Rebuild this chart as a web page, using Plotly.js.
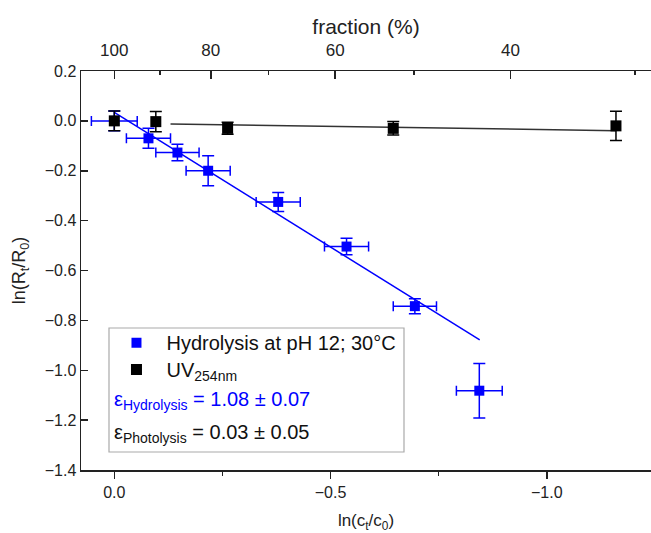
<!DOCTYPE html>
<html>
<head>
<meta charset="utf-8">
<script src="https://cdn.plot.ly/plotly-3.0.1.min.js"></script>
<style>html,body{margin:0;padding:0;background:#fff;}#chart{width:651px;height:533px;}</style>
</head>
<body>
<div id="chart"></div>
<script>
// Hydrolysis at pH 12; 30°C
const hydX = [0.0, -0.079, -0.146, -0.217, -0.379, -0.537, -0.695, -0.844];
const hydY = [0.0, -0.070, -0.127, -0.200, -0.325, -0.504, -0.743, -1.082];
const hydXErr = [0.053, 0.051, 0.050, 0.051, 0.051, 0.051, 0.050, 0.053];
const hydYErr = [0.040, 0.040, 0.033, 0.060, 0.038, 0.033, 0.030, 0.109];
// UV 254 nm
const uvX = [0.0, -0.096, -0.262, -0.645, -1.160];
const uvY = [0.0, -0.003, -0.030, -0.030, -0.020];
const uvYErr = [0.040, 0.041, 0.024, 0.027, 0.059];
// linear fits
const hydFitX = [0.0, -0.845];
const hydFitSlope = 1.08, hydFitIntercept = 0.034;
const uvFitX = [-0.13, -1.16];
const uvFitSlope = 0.026, uvFitIntercept = -0.009;
// top axis (fraction %)
const fractionTicks = [100, 80, 60, 40];
const fractionMinor = [90, 70, 50, 30];

const FONT = "Arial, 'Liberation Sans', sans-serif";
const AX = '#222';

const traces = [
  {x: hydFitX, y: hydFitX.map(v => hydFitSlope * v + hydFitIntercept), mode: 'lines',
   line: {color: '#0000ff', width: 1.5}, showlegend: false, hoverinfo: 'skip'},
  {x: uvFitX, y: uvFitX.map(v => uvFitSlope * v + uvFitIntercept), mode: 'lines',
   line: {color: '#333', width: 1.5}, showlegend: false, hoverinfo: 'skip'},
  {x: hydX, y: hydY, mode: 'markers', name: 'Hydrolysis at pH 12; 30°C', legend: 'legend',
   marker: {symbol: 'square', size: 10, color: '#0000ff'},
   error_x: {type: 'data', array: hydXErr, color: '#0000ff', thickness: 1.5, width: 5},
   error_y: {type: 'data', array: hydYErr, color: '#0000ff', thickness: 1.5, width: 6}},
  {x: uvX, y: uvY, mode: 'markers', name: 'UV<sub>254nm</sub>', legend: 'legend2',
   marker: {symbol: 'square', size: 11, color: '#000'},
   error_y: {type: 'data', array: uvYErr, color: '#000', thickness: 1.5, width: 6}},
  {x: [null], y: [null], xaxis: 'x2', yaxis: 'y', showlegend: false, hoverinfo: 'skip'}
];

const xRange = [0.077, -1.241];
const legendCommon = {xanchor: 'left', yanchor: 'top', bgcolor: 'rgba(0,0,0,0)', borderwidth: 0,
                      font: {size: 20, color: '#111'}, itemwidth: 50};

const layout = {
  width: 651, height: 533,
  margin: {l: 81, r: 0, t: 71, b: 63},
  paper_bgcolor: '#fff', plot_bgcolor: '#fff',
  font: {family: FONT, color: AX, size: 16},
  showlegend: true,
  legend: Object.assign({x: 0.0447, y: 0.368}, legendCommon),
  legend2: Object.assign({x: 0.0447, y: 0.3008}, legendCommon),
  xaxis: {
    range: xRange, showline: true, linecolor: AX, linewidth: 1.5, mirror: false,
    ticks: 'outside', ticklen: 7, tickwidth: 1.5, tickcolor: AX,
    dtick: 0.5, tick0: 0, tickformat: '.1f', showgrid: false, zeroline: false,
    minor: {dtick: 0.25, tick0: 0, ticks: 'outside', ticklen: 4, tickwidth: 1.5, tickcolor: AX, showgrid: false},
    tickfont: {size: 16, color: AX},
    title: {text: 'ln(c<sub>t</sub>/c<sub>0</sub>)', font: {size: 17, color: AX}, standoff: 16}
  },
  xaxis2: {
    overlaying: 'x', side: 'top', range: xRange, showline: true, linecolor: AX, linewidth: 1.5,
    tickmode: 'array', tickvals: fractionTicks.map(f => Math.log(f / 100)), ticktext: fractionTicks.map(String),
    ticks: 'inside', ticklen: 8, tickwidth: 1.5, tickcolor: AX, ticklabelstandoff: 7,
    minor: {tickmode: 'array', tickvals: fractionMinor.map(f => Math.log(f / 100)), ticks: 'inside', ticklen: 4, tickwidth: 1.5, tickcolor: AX, showgrid: false},
    showgrid: false, zeroline: false, tickfont: {size: 17, color: AX},
    title: {text: 'fraction (%)', font: {size: 21, color: AX}, standoff: 0}
  },
  yaxis: {
    range: [-1.4, 0.2], dtick: 0.2, tick0: 0, tickformat: '.1f', showline: true, linecolor: AX, linewidth: 1.5,
    ticks: 'inside', ticklen: 7, tickwidth: 1.5, tickcolor: AX, showgrid: false, zeroline: false,
    tickfont: {size: 16, color: AX},
    title: {text: 'ln(R<sub>t</sub>/R<sub>0</sub>)', font: {size: 18, color: AX}, standoff: 14}
  },
  shapes: [
    {type: 'rect', xref: 'paper', yref: 'paper', x0: (109 - 81) / 570, x1: (404 - 81) / 570,
     y0: (470 - 452) / 399, y1: (470 - 328) / 399, line: {color: '#aaa', width: 1.2}, fillcolor: 'rgba(0,0,0,0)'}
  ],
  annotations: [
    {xref: 'paper', yref: 'paper', x: (112 - 81) / 570, y: (470 - 400) / 399, xanchor: 'left', yanchor: 'middle',
     text: 'ε<sub>Hydrolysis</sub> = 1.08 ± 0.07', showarrow: false, font: {size: 20, color: '#0000ff'}},
    {xref: 'paper', yref: 'paper', x: (112 - 81) / 570, y: (470 - 433) / 399, xanchor: 'left', yanchor: 'middle',
     text: 'ε<sub>Photolysis</sub> = 0.03 ± 0.05', showarrow: false, font: {size: 20, color: '#111'}}
  ]
};

Plotly.newPlot('chart', traces, layout, {displayModeBar: false, staticPlot: true});
</script>
</body>
</html>
